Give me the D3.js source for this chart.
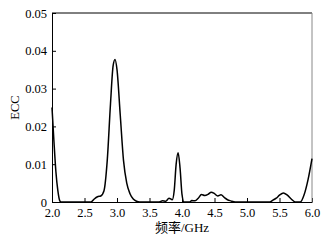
<!DOCTYPE html>
<html>
<head>
<meta charset="utf-8">
<script src="https://cdn.jsdelivr.net/npm/d3@7"></script>
<style>
  html, body { margin: 0; padding: 0; background: #fff; }
  svg { display: block; }
  text { font-family: "Liberation Serif", "Noto Sans CJK SC", serif; fill: #000; }
</style>
</head>
<body>
<div id="viz"></div>
<script>
'use strict';

// frequency (GHz) and ECC
const freq = [
  2.00, 2.03, 2.06, 2.09, 2.12, 2.14, 2.60, 2.65, 2.70, 2.75, 2.80, 2.85,
  2.90, 2.94, 2.97, 3.00, 3.05, 3.10, 3.15, 3.20, 3.25, 3.30, 3.35, 3.65,
  3.70, 3.75, 3.80, 3.85, 3.88, 3.91, 3.94, 3.97, 4.00, 4.03, 4.12, 4.15,
  4.20, 4.25, 4.30, 4.35, 4.40, 4.45, 4.50, 4.55, 4.60, 4.65, 4.70, 4.75,
  4.82, 5.35, 5.40, 5.45, 5.50, 5.56, 5.62, 5.68, 5.74, 5.82, 5.88, 5.94, 6.00
];
const ecc = [
  0.0250, 0.0160, 0.0080, 0.0030, 0.0003, 0, 0, 0.0008, 0.0014, 0.0016, 0.0030, 0.0110,
  0.0260, 0.0360, 0.0377, 0.0350, 0.0230, 0.0110, 0.0050, 0.0022, 0.0008, 0.0002, 0, 0,
  0.0003, 0.0002, 0.0010, 0.0006, 0.0030, 0.0100, 0.0130, 0.0090, 0.0020, 0, 0, 0.0004,
  0.0003, 0.0010, 0.0020, 0.0017, 0.0020, 0.0026, 0.0022, 0.0016, 0.0019, 0.0012, 0.0006, 0.0003,
  0, 0, 0.0005, 0.0010, 0.0018, 0.0024, 0.0018, 0.0008, 0, 0, 0.0020, 0.0060, 0.0115
];

const xTicks = [2.0, 2.5, 3.0, 3.5, 4.0, 4.5, 5.0, 5.5, 6.0];
const yTicks = [0, 0.01, 0.02, 0.03, 0.04, 0.05];

const xLabel = '频率/GHz';
const yLabel = 'ECC';

const data = freq.map((f, i) => ({f: f, v: ecc[i]}));

const W = 329, H = 240;
const margin = {top: 13, right: 17, bottom: 38, left: 52};
const width = W - margin.left - margin.right;
const height = H - margin.top - margin.bottom;

const svg = d3.select('#viz')
  .append('svg')
    .attr('width', W)
    .attr('height', H)
  .append('g')
    .attr('transform', 'translate(' + margin.left + ',' + margin.top + ')');

const x = d3.scaleLinear().domain([2, 6]).range([0, width]);
const y = d3.scaleLinear().domain([0, 0.05]).range([height, 0]);

// bottom axis, ticks pointing inward
const xAxis = svg.append('g')
  .attr('transform', 'translate(0,' + height + ')')
  .call(d3.axisBottom(x).tickValues(xTicks).tickFormat(d3.format('.1f'))
    .tickSizeInner(-4).tickSizeOuter(0).tickPadding(6));

// left axis, ticks pointing inward
const yAxis = svg.append('g')
  .call(d3.axisLeft(y).tickValues(yTicks).tickFormat(d => d === 0 ? '0' : d3.format('.2f')(d))
    .tickSizeInner(-4).tickSizeOuter(0).tickPadding(5));

for (const ax of [xAxis, yAxis]) {
  ax.selectAll('text').style('font-size', '12.5px').attr('fill', '#000');
  ax.selectAll('line').attr('stroke', '#000');
  ax.select('.domain').attr('stroke', '#000');
}

// top and right frame
svg.append('line')
  .attr('x1', 0).attr('x2', width).attr('y1', 0).attr('y2', 0)
  .attr('stroke', '#000');
svg.append('line')
  .attr('x1', width).attr('x2', width).attr('y1', 0).attr('y2', height)
  .attr('stroke', '#888');

svg.append('path')
  .datum(data)
  .attr('fill', 'none')
  .attr('stroke', '#000')
  .attr('stroke-width', 1.5)
  .attr('d', d3.line()
    .x(d => x(d.f))
    .y(d => y(d.v))
    .curve(d3.curveMonotoneX));

svg.append('text')
  .attr('x', width / 2)
  .attr('y', height + 30)
  .attr('text-anchor', 'middle')
  .style('font-size', '13px')
  .text(xLabel);

svg.append('text')
  .attr('transform', 'translate(-33,' + (height / 2) + ') rotate(-90)')
  .attr('text-anchor', 'middle')
  .style('font-size', '12.5px')
  .text(yLabel);
</script>
</body>
</html>
